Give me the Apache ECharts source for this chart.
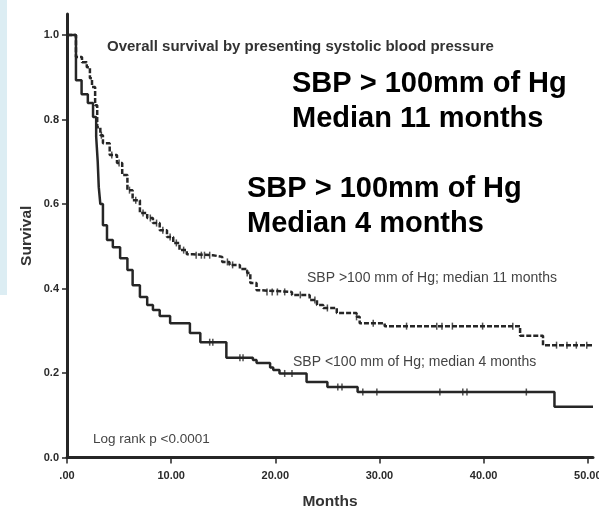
<!DOCTYPE html>
<html>
<head>
<meta charset="utf-8">
<script src="https://cdn.jsdelivr.net/npm/echarts@6/dist/echarts.min.js"></script>
<style>
  html, body { margin: 0; padding: 0; background: #fff; }
  #chart { width: 599px; height: 507px; }
</style>
</head>
<body>
<div id="chart"></div>
<script>
// Kaplan-Meier survival by presenting systolic blood pressure (months, survival)
const lowSbpMonths = [0, 0.86, 1.4, 2.0, 2.5, 2.8, 2.95, 3.05, 3.2, 3.45, 3.84, 4.4, 5.1, 5.8, 6.3, 7.0, 7.7, 8.25, 8.9, 9.9, 11.8, 12.8, 15.3, 17.85, 18.2, 19.5, 19.8, 20.4, 23.0, 25.0, 27.9, 46.8, 50.5];
const lowSbpSurvival = [1.0, 0.893, 0.86, 0.839, 0.806, 0.76, 0.70, 0.64, 0.600, 0.55, 0.515, 0.498, 0.472, 0.444, 0.408, 0.380, 0.361, 0.349, 0.335, 0.318, 0.295, 0.273, 0.236, 0.231, 0.224, 0.213, 0.207, 0.199, 0.179, 0.167, 0.155, 0.12, 0.12];
const lowSbpCensored = [13.7, 14.0, 16.6, 16.9, 20.9, 21.6, 26.0, 26.4, 28.4, 29.75, 35.8, 38.0, 38.4, 44.1];

const highSbpMonths = [0, 0.86, 1.44, 1.9, 2.2, 2.4, 2.7, 2.9, 3.2, 3.45, 4.1, 4.8, 5.3, 5.8, 6.3, 7.0, 7.7, 8.25, 8.9, 9.6, 10.2, 10.8, 11.5, 12.1, 14.0, 14.9, 15.6, 16.6, 17.3, 17.6, 18.2, 18.5, 21.6, 23.3, 24.0, 24.6, 25.9, 27.8, 28.1, 30.5, 43.5, 45.7, 50.5];
const highSbpSurvival = [1.0, 0.948, 0.936, 0.924, 0.898, 0.877, 0.834, 0.782, 0.763, 0.744, 0.716, 0.697, 0.669, 0.633, 0.609, 0.579, 0.567, 0.555, 0.538, 0.522, 0.508, 0.491, 0.481, 0.479, 0.475, 0.463, 0.456, 0.446, 0.437, 0.413, 0.396, 0.392, 0.385, 0.373, 0.361, 0.354, 0.342, 0.333, 0.318, 0.311, 0.288, 0.266, 0.266];
const highSbpCensored = [3.3, 4.3, 5.0, 6.0, 6.6, 7.3, 8.0, 8.6, 9.2, 9.9, 10.5, 11.2, 12.4, 12.9, 13.2, 13.7, 15.4, 15.9, 17.3, 19.2, 19.7, 20.2, 20.9, 22.4, 23.8, 25.0, 27.8, 29.4, 32.6, 35.5, 36.0, 37.0, 39.9, 42.8, 47.0, 48.0, 48.9, 49.9];

const xTicks = [0, 10, 20, 30, 40, 50];
const xTickLabels = ['.00', '10.00', '20.00', '30.00', '40.00', '50.00'];
const yTicks = [0, 0.2, 0.4, 0.6, 0.8, 1.0];
const yTickLabels = ['0.0', '0.2', '0.4', '0.6', '0.8', '1.0'];

const INK = '#262626';

function pairs(xs, ys) { return xs.map((x, i) => [x, ys[i]]); }
function survivalAt(xs, ys, t) {
  let s = ys[0];
  for (let i = 0; i < xs.length; i++) { if (xs[i] <= t) s = ys[i]; else break; }
  return s;
}
function censorPoints(xs, ys, times) { return times.map(t => [t, survivalAt(xs, ys, t)]); }

const chart = echarts.init(document.getElementById('chart'), null, { renderer: 'canvas' });

const tickFont = { fontFamily: 'Liberation Sans', fontWeight: 'bold', fontSize: 11, color: '#2a2a2a' };
const nameFont = { fontFamily: 'Liberation Sans', fontWeight: 'bold', fontSize: 15.5, color: '#333' };

chart.setOption({
  animation: false,
  backgroundColor: '#fff',
  grid: { left: 67, right: 6, top: 14, bottom: 49.5, containLabel: false, outerBoundsMode: 'none' },
  xAxis: {
    type: 'value', min: 0, max: 50.5,
    name: 'Months', nameLocation: 'middle', nameGap: 36, nameMoveOverlap: false,
    nameTextStyle: nameFont,
    axisLine: { show: true, onZero: false, lineStyle: { color: INK, width: 3 } },
    axisTick: { show: true, length: 6, customValues: xTicks, lineStyle: { color: INK, width: 1.5 } },
    axisLabel: Object.assign({ margin: 13, customValues: xTicks,
      formatter: v => xTickLabels[xTicks.indexOf(v)] }, tickFont),
    splitLine: { show: false }
  },
  yAxis: {
    type: 'value', min: 0, max: 1.05,
    name: 'Survival', nameLocation: 'middle', nameGap: 32, nameRotate: 90, nameMoveOverlap: false,
    nameTextStyle: nameFont,
    axisLine: { show: true, onZero: false, lineStyle: { color: INK, width: 3 } },
    axisTick: { show: true, length: 5, customValues: yTicks, lineStyle: { color: INK, width: 1.5 } },
    axisLabel: Object.assign({ margin: 8, customValues: yTicks,
      formatter: v => yTickLabels[yTicks.findIndex(t => Math.abs(t - v) < 1e-9)] }, tickFont),
    splitLine: { show: false }
  },
  series: [
    {
      name: 'SBP <100', type: 'line', step: 'end', showSymbol: false,
      data: pairs(lowSbpMonths, lowSbpSurvival),
      lineStyle: { color: INK, width: 2.5 }, z: 3
    },
    {
      name: 'SBP >100', type: 'line', step: 'end', showSymbol: false,
      data: pairs(highSbpMonths, highSbpSurvival),
      lineStyle: { color: INK, width: 2.5, type: [5, 2] }, z: 3
    },
    {
      name: 'SBP <100 censored', type: 'scatter', symbol: 'rect', symbolSize: [1.5, 7],
      data: censorPoints(lowSbpMonths, lowSbpSurvival, lowSbpCensored),
      itemStyle: { color: INK }, z: 4
    },
    {
      name: 'SBP >100 censored', type: 'scatter', symbol: 'rect', symbolSize: [1.5, 7],
      data: censorPoints(highSbpMonths, highSbpSurvival, highSbpCensored),
      itemStyle: { color: INK }, z: 4
    }
  ],
  graphic: [
    { type: 'rect', shape: { x: 0, y: 0, width: 7, height: 295 }, style: { fill: '#dcedf3' }, z: 0 },
    { type: 'text', x: 107, y: 47, style: { text: 'Overall survival by presenting systolic blood pressure',
      font: 'bold 15px "Liberation Sans"', fill: '#333', textVerticalAlign: 'middle' } },
    { type: 'text', x: 292, y: 101, style: { text: 'SBP > 100mm of Hg\nMedian 11 months',
      font: 'bold 29px "Liberation Sans"', fill: '#000', lineHeight: 35, textVerticalAlign: 'middle' } },
    { type: 'text', x: 247, y: 206, style: { text: 'SBP > 100mm of Hg\nMedian 4 months',
      font: 'bold 29px "Liberation Sans"', fill: '#000', lineHeight: 35, textVerticalAlign: 'middle' } },
    { type: 'text', x: 307, y: 278, style: { text: 'SBP >100 mm of Hg; median 11 months',
      font: '14px "Liberation Sans"', fill: '#444', textVerticalAlign: 'middle' } },
    { type: 'text', x: 293, y: 362, style: { text: 'SBP <100 mm of Hg; median 4 months',
      font: '14px "Liberation Sans"', fill: '#444', textVerticalAlign: 'middle' } },
    { type: 'text', x: 93, y: 439, style: { text: 'Log rank p <0.0001',
      font: '13.5px "Liberation Sans"', fill: '#444', textVerticalAlign: 'middle' } }
  ]
});
</script>
</body>
</html>
